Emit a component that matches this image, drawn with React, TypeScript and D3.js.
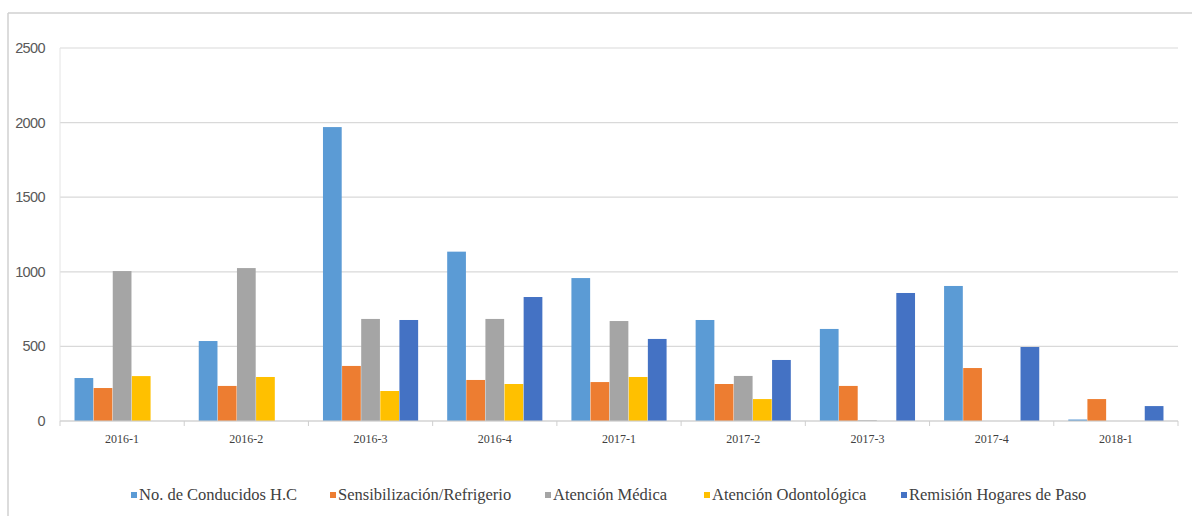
import React from "react";
import * as d3 from "d3";

const categories = ["2016-1", "2016-2", "2016-3", "2016-4", "2017-1", "2017-2", "2017-3", "2017-4", "2018-1"];
const seriesNames = ["No. de Conducidos H.C", "Sensibilización/Refrigerio", "Atención Médica", "Atención Odontológica", "Remisión Hogares de Paso"];
const conducidos = [288, 536, 1970, 1135, 958, 677, 617, 905, 10];
const sensibilizacion = [221, 235, 369, 275, 261, 248, 235, 355, 147];
const atencionMedica = [1005, 1025, 684, 684, 670, 302, 5, 0, 0];
const odontologica = [301, 295, 201, 248, 295, 147, 0, 0, 0];
const remision = [0, 0, 677, 831, 550, 409, 858, 496, 100];
const yTicks = [0, 500, 1000, 1500, 2000, 2500];
const colors = ["#5B9BD5", "#ED7D31", "#A5A5A5", "#FFC000", "#4472C4"];
const legendX = [134, 333, 548, 707, 904];

const serif = "'Liberation Serif', 'Times New Roman', serif";
const sans = "'Liberation Sans', Arial, sans-serif";

export default function App() {
  const series = [conducidos, sensibilizacion, atencionMedica, odontologica, remision];
  const left = 60, right = 1178, top = 48, bottom = 421;
  const x0 = d3.scaleBand<string>().domain(categories).range([left, right]).paddingInner(0).paddingOuter(0);
  const x1 = d3.scaleBand<number>().domain(d3.range(5)).range([0, x0.bandwidth()]).paddingOuter(0.76).paddingInner(0.02);
  const y = d3.scaleLinear().domain([0, 2500]).range([bottom, top]);
  const tickXs = d3.range(categories.length + 1).map((i) => left + i * x0.bandwidth());

  return (
    <svg width={1192} height={516} style={{ position: "absolute", left: 0, top: 0, background: "#fff" }}>
      <line x1={8} y1={13} x2={1192} y2={13} stroke="#d0d0d0" strokeWidth={1.5} />
      <line x1={8} y1={13} x2={8} y2={516} stroke="#d0d0d0" strokeWidth={1.5} />
      {yTicks.map((t) => (
        <g key={t}>
          <line x1={left} x2={right} y1={y(t)} y2={y(t)} stroke="#d9d9d9" strokeWidth={1.2} />
          <text x={45} y={y(t) + 5} textAnchor="end" style={{ fontFamily: sans }} fontSize={14.5} fill="#595959" letterSpacing={-0.6}>{t}</text>
        </g>
      ))}
      <line x1={left} x2={left} y1={top} y2={bottom} stroke="#e4e4e4" strokeWidth={1} />
      {series.map((vals, si) =>
        vals.map((v, ci) => (
          <rect key={si + "-" + ci} x={(x0(categories[ci]) as number) + (x1(si) as number)} y={y(v)} width={x1.bandwidth()} height={bottom - y(v)} fill={colors[si]} />
        ))
      )}
      <line x1={left} x2={right} y1={bottom} y2={bottom} stroke="#cfcfcf" strokeWidth={1.2} />
      {tickXs.map((tx, i) => (
        <line key={i} x1={tx} x2={tx} y1={bottom} y2={bottom + 5} stroke="#cfcfcf" strokeWidth={1} />
      ))}
      {categories.map((c) => (
        <text key={c} x={(x0(c) as number) + x0.bandwidth() / 2} y={443} textAnchor="middle" style={{ fontFamily: serif }} fontSize={12} fill="#404040">{c}</text>
      ))}
      {seriesNames.map((n, i) => (
        <g key={n}>
          <rect x={legendX[i] - 3} y={492} width={6} height={6} fill={colors[i]} />
          <text x={legendX[i] + 5} y={500} style={{ fontFamily: serif }} fontSize={16.5} fill="#404040">{n}</text>
        </g>
      ))}
    </svg>
  );
}
